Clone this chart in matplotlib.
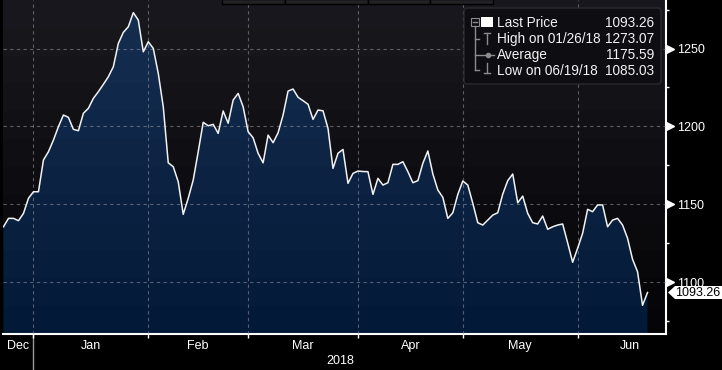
import numpy as np
import pandas as pd
import matplotlib
matplotlib.use('Agg')
import matplotlib.pyplot as plt
from matplotlib import transforms
from matplotlib.patches import Rectangle, FancyBboxPatch, Polygon
from matplotlib.lines import Line2D

# daily closes, one per weekday
start_date = '2017-12-21'
end_date = '2018-06-20'
prices = [
    1135.5, 1140.9, 1140.9, 1139.4, 1144.1, 1153.8, 1158.0, 1158.0, 1178.4, 1183.7,
    1191.2, 1199.8, 1207.3, 1205.8, 1198.1, 1197.2, 1208.4, 1211.6, 1218.0, 1222.3,
    1227.0, 1231.9, 1238.3, 1253.3, 1260.4, 1264.0, 1273.07, 1268.3, 1247.9, 1254.4,
    1250.1, 1234.1, 1212.6, 1176.6, 1174.1, 1164.4, 1143.5, 1153.8, 1165.5, 1183.7,
    1202.6, 1200.4, 1201.3, 1195.5, 1209.9, 1202.0, 1216.9, 1221.2, 1212.6, 1196.6,
    1192.7, 1182.7, 1176.6, 1194.4, 1189.5, 1195.9, 1207.3, 1222.7, 1224.0, 1218.7,
    1216.5, 1214.2, 1204.5, 1210.5, 1210.0, 1198.7, 1173.0, 1182.7, 1185.2, 1163.4,
    1169.8, 1171.3, 1171.0, 1170.9, 1156.3, 1166.6, 1162.3, 1163.8, 1175.6, 1175.6,
    1177.3, 1170.9, 1163.8, 1165.1, 1176.3, 1184.2, 1169.4, 1159.1, 1154.4, 1140.9,
    1144.5, 1156.3, 1164.9, 1162.3, 1150.6, 1138.1, 1136.6, 1139.8, 1143.0, 1144.5,
    1156.5, 1165.1, 1169.4, 1150.9, 1155.2, 1144.1, 1138.1, 1137.3, 1142.4, 1133.9,
    1135.5, 1136.6, 1137.3, 1125.2, 1112.7, 1121.7, 1131.3, 1146.7, 1145.2, 1149.5,
    1149.5, 1135.5, 1139.8, 1140.9, 1136.6, 1128.1, 1114.6, 1106.6, 1085.03, 1093.26,
]
month_labels = ['Dec', 'Jan', 'Feb', 'Mar', 'Apr', 'May', 'Jun']
year_label = '2018'
y_major = [1100, 1150, 1200, 1250]
y_minor = [1075, 1125, 1175, 1225, 1275]

legend_labels = ['Last Price', 'High on 01/26/18', 'Average', 'Low on 06/19/18']
legend_values = ['1093.26', '1273.07', '1175.59', '1085.03']

plt.rcParams['font.family'] = ['Liberation Sans', 'DejaVu Sans']

W, H = 722, 370
fig = plt.figure(figsize=(W / 100, H / 100), dpi=100, facecolor='black')
ax = fig.add_axes([3 / W, 1 - 334 / H, 663 / W, 334 / H])
ax.set_facecolor('black')

# pixel coords of the picture (y down) -> figure
pxT = transforms.Affine2D().scale(1 / W, -1 / H).translate(0, 1) + fig.transFigure

dates = pd.bdate_range(start_date, end_date)
x = np.arange(len(dates))
xlim = (-0.1, 132.7)
ylim = (1066.6, 1281.2)

# month boundaries sit on the last weekday of the previous month
all_days = pd.bdate_range(start_date, '2018-06-30')
starts = [i for i in range(1, len(all_days)) if all_days[i].month != all_days[i - 1].month]
grid_x = [s - 1 for s in starts]
bounds = [xlim[0]] + grid_x + [len(all_days) - 1]

# banded background and banded fill
bg = np.linspace([0.094, 0.094, 0.114], [0.02, 0.02, 0.03], 12)[:, None, :]
ax.imshow(bg, extent=[0, 1, 0, 1], transform=ax.transAxes, aspect='auto',
          interpolation='nearest', zorder=0)
poly = ax.fill_between(x, prices, ylim[0], facecolor='none', edgecolor='none')
fg = np.linspace([0.085, 0.18, 0.315], [0.012, 0.1, 0.22], 12)[:, None, :]
im = ax.imshow(fg, extent=[xlim[0], xlim[1], ylim[0], ylim[1]], aspect='auto',
               interpolation='nearest', zorder=1)
im.set_clip_path(poly.get_paths()[0], transform=ax.transData)

ax.plot(x, prices, color='#f2f2f2', lw=1.1, zorder=4)

ax.set_xlim(*xlim)
ax.set_ylim(*ylim)

ax.yaxis.tick_right()
ax.set_yticks(y_major)
ax.set_yticks(y_minor, minor=True)
ax.set_xticks(grid_x)
ax.tick_params(axis='y', which='major', length=0, pad=8, labelcolor='white', labelsize=9)
ax.tick_params(axis='y', which='minor', length=2.5, width=1, color='white', direction='out')
ax.tick_params(axis='x', which='major', length=3, width=1, color='white', direction='out',
               labelbottom=False)
ax.set_axisbelow(False)
ax.grid(True, color='#9a9aa2', alpha=0.55, lw=0.8, linestyle=(0, (3, 3)))

for side in ['left', 'top']:
    ax.spines[side].set_visible(False)
for side in ['right', 'bottom']:
    ax.spines[side].set_color('white')
    ax.spines[side].set_linewidth(1.5)

# triangle markers on the price axis
tri_tr = transforms.blended_transform_factory(ax.transAxes, ax.transData) + \
    transforms.ScaledTranslation(4 / 100, 0, fig.dpi_scale_trans)
ax.plot([1] * len(y_major), y_major, ls='none', marker='>', ms=5.5, color='white',
        transform=tri_tr, clip_on=False, zorder=5)

# month and year labels
bl = transforms.blended_transform_factory(ax.transData, ax.transAxes)
for i, name in enumerate(month_labels):
    c = (bounds[i] + bounds[i + 1]) / 2
    ax.text(c, -0.036, name, transform=bl, ha='center', va='center', color='white', fontsize=9)
ax.text((grid_x[0] + x[-1]) / 2, -0.081, year_label, transform=bl, ha='center', va='center',
        color='white', fontsize=9)
ax.add_line(Line2D([grid_x[0], grid_x[0]], [0, -0.108], transform=bl, color='#9a9a9a',
                   lw=1, clip_on=False))

# toolbar stub at the top edge
for a, b in [(222, 285), (285, 368), (368, 430), (430, 493)]:
    fig.add_artist(Rectangle((a, -1), b - a, 5, transform=pxT, facecolor='#222226',
                             edgecolor='black', lw=1))

# legend panel
fig.add_artist(FancyBboxPatch((464, 8), 197, 76, boxstyle='round,pad=0,rounding_size=3',
                              transform=pxT, facecolor='#0e0e12', edgecolor='#2a2a2f', lw=1))
rows = [23, 39, 55, 71]
for yy, lab, val in zip(rows, legend_labels, legend_values):
    fig.text(497, yy, lab, transform=pxT, va='center', ha='left', color='#f2f2f2', fontsize=9.8)
    fig.text(654, yy, val, transform=pxT, va='center', ha='right', color='#f2f2f2', fontsize=9.8)
gray = '#8c8c8c'
fig.add_artist(Rectangle((481, 17), 12, 10, transform=pxT, facecolor='white', edgecolor='none'))
fig.add_artist(Rectangle((471, 18), 8, 8, transform=pxT, facecolor='none', edgecolor=gray, lw=0.8))
segs = [
    ([473, 477], [22, 22]),
    ([475, 475], [26, 70]),
    ([475, 479], [39, 39]),
    ([475, 494], [55, 55]),
    ([475, 479], [70, 70]),
    ([487, 487], [33, 44]),
    ([484, 490], [33, 33]),
    ([487, 487], [63, 73]),
    ([484, 490], [73, 73]),
]
for xs, ys in segs:
    fig.add_artist(Line2D(xs, ys, transform=pxT, color=gray, lw=1))
fig.add_artist(Line2D([487.5], [55], transform=pxT, color=gray, marker='o', ms=3, ls='none'))

# last price tag
y_tag = H - ax.transData.transform((0, prices[-1]))[1]
fig.add_artist(Polygon([(668, y_tag), (675, y_tag - 6.5), (722, y_tag - 6.5),
                        (722, y_tag + 6.5), (675, y_tag + 6.5)], closed=True,
                       transform=pxT, facecolor='white', edgecolor='none'))
fig.text(675.5, y_tag, f'{prices[-1]:.2f}', transform=pxT, va='center', ha='left',
         color='black', fontsize=9)

fig.savefig('out.png', dpi=100, facecolor='black')
